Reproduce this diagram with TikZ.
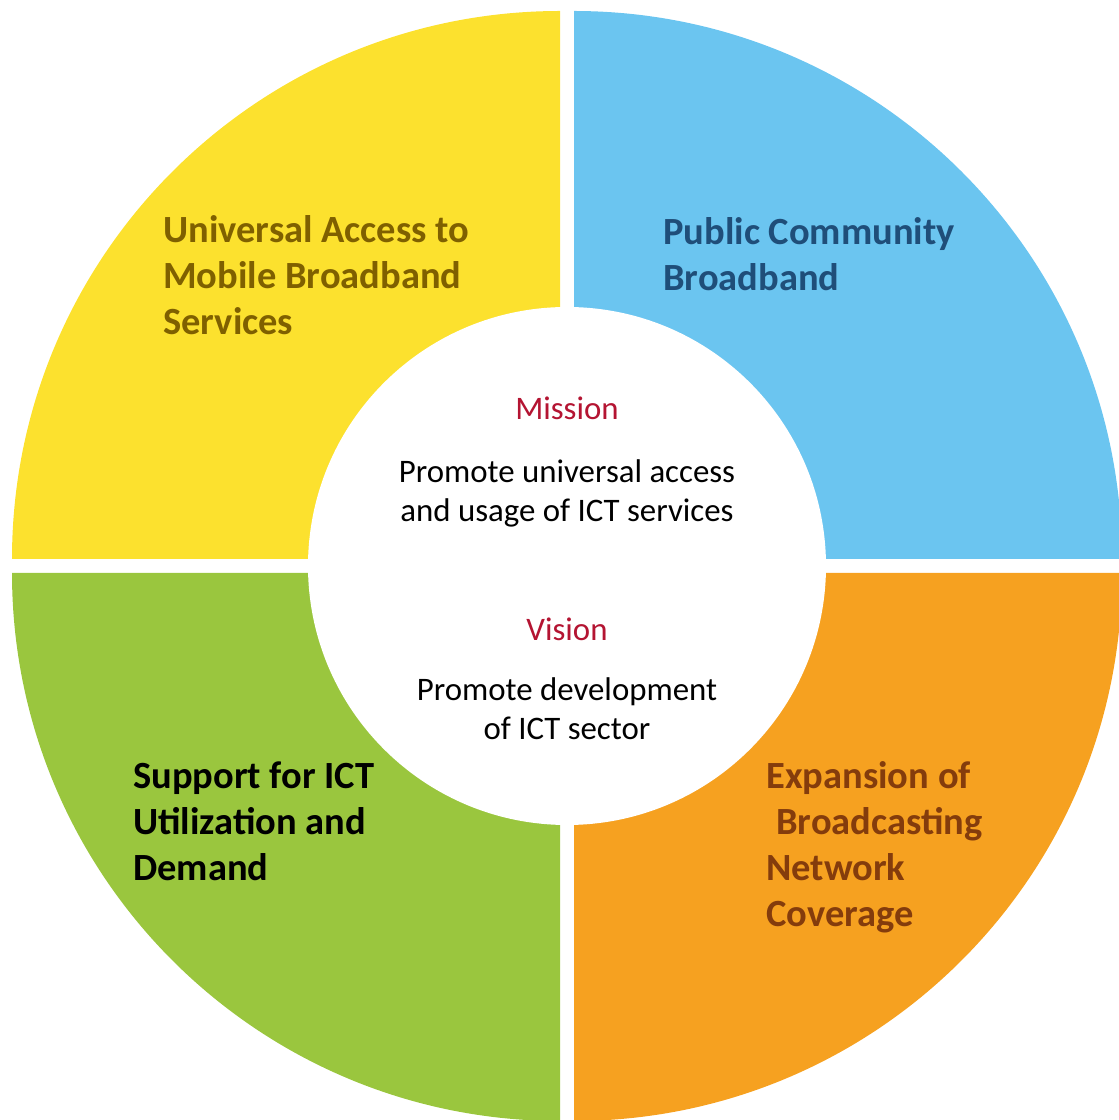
\documentclass[tikz,border=0pt]{standalone}
\usepackage{fontspec}
\setmainfont{Carlito}
\usepackage{tikz}
\definecolor{quadyellow}{RGB}{252,225,46}
\definecolor{quadblue}{RGB}{107,197,240}
\definecolor{quadorange}{RGB}{246,161,32}
\definecolor{quadgreen}{RGB}{154,198,62}
\definecolor{txtyellow}{RGB}{127,96,0}
\definecolor{txtblue}{RGB}{31,78,121}
\definecolor{txtorange}{RGB}{132,60,12}
\definecolor{txtred}{RGB}{180,20,50}

\begin{document}
\begin{tikzpicture}[x=0.02cm,y=0.02cm,
    title/.style={font=\fontsize{21.9}{26.2}\selectfont\bfseries,align=left,anchor=base west,inner sep=0pt},
    body/.style={font=\fontsize{18.7}{22.2}\selectfont,align=center,anchor=base,inner sep=0pt},
    head/.style={font=\fontsize{18.7}{22.2}\selectfont,text=txtred,anchor=base,inner sep=0pt}]
    \useasboundingbox (0,0) rectangle (1119,1120);
    % four quarters, pulled a little apart
    \foreach \cx/\cy/\a/\col in {560/561/90/quadyellow,574/561/0/quadblue,574/547/270/quadorange,560/547/180/quadgreen}
        \fill[\col] (\cx,\cy) -- ++(\a:548) arc[start angle=\a,end angle=\a+90,radius=548] -- cycle;
    \fill[white] (567,554) circle (259);
    % quarter labels (placed by their last line)
    \node[title,text=txtyellow] (access) at (163,785) {Universal Access to\\Mobile Broadband\\Services};
    \node[title,text=txtblue] (public) at (663,829) {Public Community\\Broadband};
    \node[title] (support) at (133,239) {Support for ICT\\Utilization and\\Demand};
    \node[title,text=txtorange] (expansion) at (766,193) {Expansion of\\\hspace*{0.2cm}Broadcasting\\Network\\Coverage};
    % centre
    \node[head] (mission) at (567,700) {Mission};
    \node[body] (missiontext) at (567,598) {Promote universal access\\and usage of ICT services};
    \node[head] (vision) at (567,479) {Vision};
    \node[body] (visiontext) at (567,380) {Promote development\\of ICT sector};
\end{tikzpicture}
\end{document}
